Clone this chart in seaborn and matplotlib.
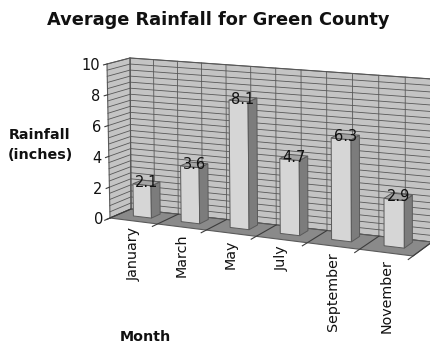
import numpy as np
import matplotlib
matplotlib.use("Agg")
import matplotlib.pyplot as plt
import matplotlib.transforms as mtransforms
from matplotlib.patches import Polygon
import seaborn as sns

# ---- data ----
months = ["January", "March", "May", "July", "September", "November"]
rainfall = [2.1, 3.6, 8.1, 4.7, 6.3, 2.9]
y_ticks = [0, 2, 4, 6, 8, 10]
title = "Average Rainfall for Green County"
x_label = "Month"
y_label = "Rainfall\n(inches)"

W, H = 430, 347
Y_MAX = 10
N_CAT = len(months)

# ---- simple perspective box: front plane (depth 0) and back plane (depth 1) ----
K = 0.07  # horizontal foreshortening
FRONT = dict(xL=110, xR=413, yL=218, yR=256, sL=15.4, sR=16.6, lean=-3.0)
BACK = dict(xL=131, xR=432, yL=209, yR=242, sL=15.1, sR=16.3, lean=-1.0)


def _g(u):
    t = u / N_CAT
    return t * (1 - K) + K * t * t


def _plane(u, v, P):
    G = _g(u)
    x = P["xL"] + (P["xR"] - P["xL"]) * G + P["lean"] * (1 - G) * v / Y_MAX
    y = P["yL"] + (P["yR"] - P["yL"]) * G - v * (P["sL"] + (P["sR"] - P["sL"]) * G)
    return x, y


def project(u, v, d):
    fx, fy = _plane(u, v, FRONT)
    bx, by = _plane(u, v, BACK)
    return (1 - d) * fx + d * bx, (1 - d) * fy + d * by


class Proj(mtransforms.Transform):
    """Maps 2-D coordinates lying in one plane of the 3-D box to pixels.

    mode 'front': (category x, value) at a fixed depth
    mode 'side' : (depth, value) at a fixed category x
    mode 'floor': (category x, depth) at a fixed value
    """
    input_dims = 2
    output_dims = 2
    is_separable = False
    has_inverse = False

    def __init__(self, mode, fixed):
        super().__init__()
        self.mode = mode
        self.fixed = fixed

    def transform_non_affine(self, values):
        a = np.asarray(values, dtype=float).reshape(-1, 2)
        p, q = a[:, 0], a[:, 1]
        if self.mode == "front":
            u, v, d = p + 0.5, q, np.full_like(p, self.fixed)
        elif self.mode == "side":
            u, v, d = np.full_like(p, self.fixed + 0.5), q, p
        else:
            u, v, d = p + 0.5, np.full_like(p, self.fixed), q
        x, y = project(u, v, d)
        return np.column_stack([x, H - y])


def shifted(t, dx, dy):
    return t + mtransforms.Affine2D().translate(dx, dy)


# ---- figure ----
fig = plt.figure(figsize=(W / 100, H / 100), dpi=100)
fig.patch.set_facecolor("white")
ax = fig.add_axes([0, 0, 1, 1])
ax.set_axis_off()

X0, X1 = -0.5, N_CAT - 0.5
WALL = "#c4c4c4"
FLOOR = "#8a8a8a"
GRID = "#585858"
EDGE = "#5a5a5a"

# back wall
ax.add_patch(Polygon([(X0, 0), (X1, 0), (X1, Y_MAX), (X0, Y_MAX)],
                     closed=True, facecolor=WALL, edgecolor=EDGE, lw=0.8,
                     transform=Proj("front", 1.0), clip_on=False, zorder=1))
# side wall
ax.add_patch(Polygon([(0, 0), (1, 0), (1, Y_MAX), (0, Y_MAX)],
                     closed=True, facecolor=WALL, edgecolor=EDGE, lw=0.8,
                     transform=Proj("side", X0), clip_on=False, zorder=1))
# floor
ax.add_patch(Polygon([(X0, 0), (X1, 0), (X1, 1), (X0, 1)],
                     closed=True, facecolor=FLOOR, edgecolor=EDGE, lw=0.8,
                     transform=Proj("floor", 0.0), clip_on=False, zorder=1))

# wall grid lines (minor step 0.4)
for gv in np.arange(0, Y_MAX + 1e-6, 0.4):
    ax.plot([X0, X1], [gv, gv], color=GRID, lw=0.6,
            transform=Proj("front", 1.0), clip_on=False, zorder=2)
    ax.plot([0, 1], [gv, gv], color=GRID, lw=0.6,
            transform=Proj("side", X0), clip_on=False, zorder=2)
for gx in np.arange(X0, X1 + 1e-6, 0.5):
    ax.plot([gx, gx], [0, Y_MAX], color=GRID, lw=0.6,
            transform=Proj("front", 1.0), clip_on=False, zorder=2)

# floor category dividers with tick extensions
for gx in np.arange(X0, X1 + 1e-6, 1.0):
    ax.plot([gx, gx], [-0.25, 1], color="#3c3c3c", lw=0.8,
            transform=Proj("floor", 0.0), clip_on=False, zorder=2)

# value axis ticks and labels on the front edge of the side wall
for tv in y_ticks:
    ax.plot([-0.15, 0], [tv, tv], color="#3c3c3c", lw=0.8,
            transform=Proj("side", X0), clip_on=False, zorder=2)
    ax.text(0, tv, str(tv), ha="right", va="center", fontsize=10.5,
            color="#111111", transform=shifted(Proj("side", X0), -7, -2))

# ---- bars ----
D0, D1 = 0.42, 0.84
FACE = "#d6d6d6"
SIDE = "#7c7c7c"
TOP = "#a4a4a4"

n_before = len(ax.patches)
sns.barplot(x=months, y=rainfall, width=0.38, color=FACE, saturation=1,
            edgecolor=EDGE, linewidth=0.7, errorbar=None, ax=ax)
bars = ax.patches[n_before:]

for bar, val in zip(bars, rainfall):
    x0 = bar.get_x()
    w = bar.get_width()
    h = bar.get_height()
    x1 = x0 + w
    bar.set_transform(Proj("front", D0))
    bar.set_clip_on(False)
    bar.set_zorder(5)
    ax.add_patch(Polygon([(D0, 0), (D1, 0), (D1, h), (D0, h)], closed=True,
                         facecolor=SIDE, edgecolor=EDGE, lw=0.7,
                         transform=Proj("side", x1), clip_on=False, zorder=5))
    ax.add_patch(Polygon([(x0, D0), (x1, D0), (x1, D1), (x0, D1)], closed=True,
                         facecolor=TOP, edgecolor=EDGE, lw=0.7,
                         transform=Proj("floor", h), clip_on=False, zorder=5))
    ax.text(x0 + w / 2, h, f"{val}", ha="center", va="center", fontsize=10.5,
            color="#111111", transform=Proj("front", (D0 + D1) / 2), zorder=7)

# category labels below the front edge of the floor
for i, m in enumerate(months):
    ax.text(i, 0, m, rotation=90, ha="center", va="top", fontsize=10.3,
            color="#111111", transform=shifted(Proj("floor", 0.0), 0, -6))

# ---- titles ----
fig.text(218 / W, 1 - 20 / H, title, ha="center", va="center",
         fontsize=12.8, fontweight="bold", color="#111111")
fig.text(40 / W, 1 - 145 / H, y_label, ha="center", va="center",
         fontsize=10.3, fontweight="bold", linespacing=1.5, color="#111111")
fig.text(145 / W, 1 - 337 / H, x_label, ha="center", va="center",
         fontsize=10.3, fontweight="bold", color="#111111")

fig.savefig("out.png", dpi=100)
